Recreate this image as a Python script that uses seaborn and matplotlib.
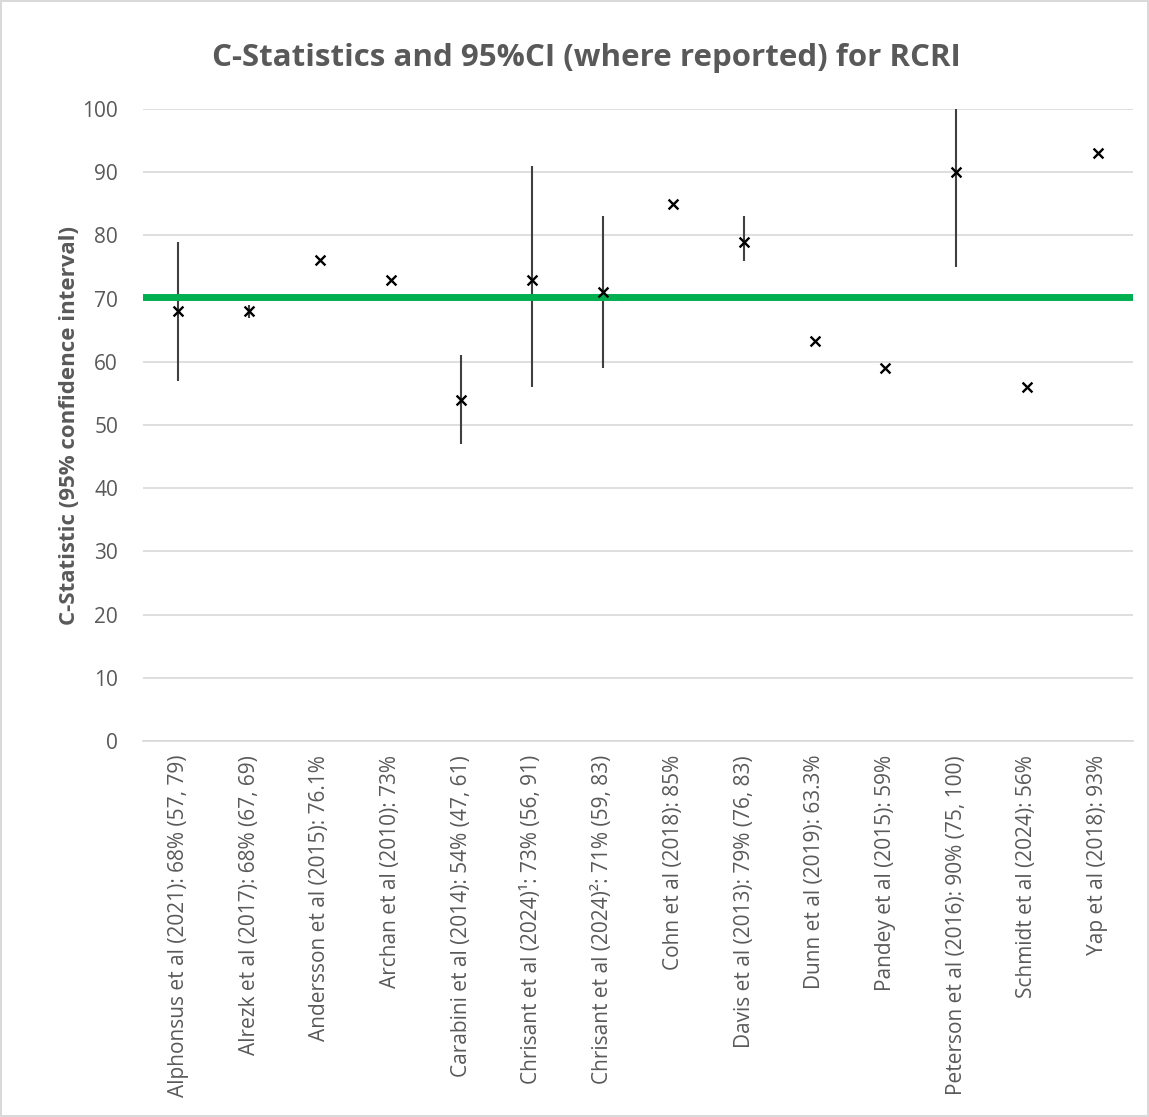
import numpy as np
import pandas as pd
import matplotlib.pyplot as plt
import seaborn as sns

studies = [
    'Alphonsus et al (2021): 68% (57, 79)',
    'Alrezk et al (2017): 68% (67, 69)',
    'Andersson et al (2015): 76.1%',
    'Archan et al (2010): 73%',
    'Carabini et al (2014): 54% (47, 61)',
    'Chrisant et al (2024)\u00b9: 73% (56, 91)',
    'Chrisant et al (2024)\u00b2: 71% (59, 83)',
    'Cohn et al (2018): 85%',
    'Davis et al (2013): 79% (76, 83)',
    'Dunn et al (2019): 63.3%',
    'Pandey et al (2015): 59%',
    'Peterson et al (2016): 90% (75, 100)',
    'Schmidt et al (2024): 56%',
    'Yap et al (2018): 93%',
]
c_stat = [68, 68, 76.1, 73, 54, 73, 71, 85, 79, 63.3, 59, 90, 56, 93]
ci_low = [57, 67, np.nan, np.nan, 47, 56, 59, np.nan, 76, np.nan, np.nan, 75, np.nan, np.nan]
ci_high = [79, 69, np.nan, np.nan, 61, 91, 83, np.nan, 83, np.nan, np.nan, 100, np.nan, np.nan]
pooled = 70.3

grey = '#595959'
light = '#d9d9d9'

df = pd.DataFrame({'study': studies, 'c': c_stat, 'lo': ci_low, 'hi': ci_high})
df['pos'] = np.arange(len(df))

sns.set_style('white')
plt.rcParams['font.family'] = ['Open Sans', 'DejaVu Sans']

fig = plt.figure(figsize=(11.49, 11.17), dpi=100)
fig.patch.set_edgecolor(light)
fig.patch.set_linewidth(1.5)
ax = fig.add_axes([0.1245, 0.3366, 0.8615, 0.5658])

# confidence intervals
ci = df.dropna()
ax.vlines(ci['pos'], ci['lo'], ci['hi'], color='#404040', lw=1.5, zorder=2)

# pooled line
ax.axhline(pooled, color='#00b050', lw=5, zorder=3)

sns.scatterplot(data=df, x='pos', y='c', marker='x', color='black', s=50,
                linewidth=1.7, ax=ax, zorder=4)

ax.set_xlim(-0.5, len(df) - 0.5)
ax.set_ylim(0, 100)
ax.set_yticks(range(0, 101, 10))
ax.yaxis.grid(True, color=light, lw=1.2)
ax.set_axisbelow(True)

ax.set_xticks(df['pos'])
ax.set_xticklabels(df['study'], rotation=90, fontsize=15, color=grey)
ax.set_xticks(np.arange(-0.5, len(df), 1), minor=True)
ax.tick_params(axis='x', which='major', length=0, pad=10)
ax.tick_params(axis='x', which='minor', length=6, color=light, width=1.2)
ax.tick_params(axis='y', length=0, labelsize=15, labelcolor=grey, pad=18)

for s in ['left', 'right', 'top']:
    ax.spines[s].set_visible(False)
ax.spines['bottom'].set_color(light)
ax.spines['bottom'].set_linewidth(1.2)

ax.set_xlabel('')
ax.set_ylabel('C-Statistic (95% confidence interval)', fontsize=16,
              fontweight='bold', color=grey, labelpad=2)
fig.text(0.51, 0.948, 'C-Statistics and 95%CI (where reported) for RCRI',
         fontsize=22.5, fontweight='bold', color=grey, ha='center', va='center')

fig.savefig('out.png', dpi=100)
